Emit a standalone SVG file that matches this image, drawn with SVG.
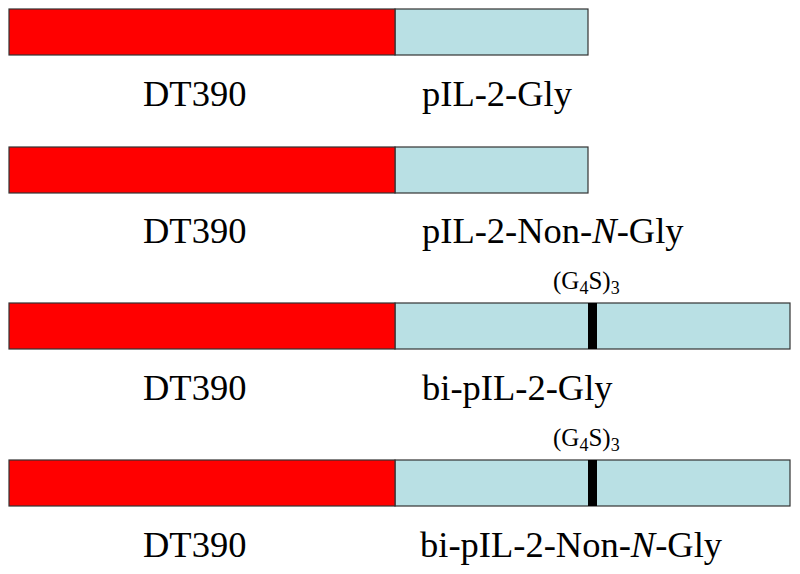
<svg xmlns="http://www.w3.org/2000/svg" width="800" height="574" viewBox="0 0 800 574">
<style>
.red{fill:#FF0000;stroke:#333;stroke-width:1.2}
.blue{fill:#B9E0E4;stroke:#333;stroke-width:1.2}
.link{fill:#000}
.lbl{font-family:"Liberation Serif","Times New Roman",serif;font-size:36.5px;fill:#000}
.sm{font-family:"Liberation Serif","Times New Roman",serif;font-size:25px;fill:#000}
.sub{font-size:18px}
</style>
<rect width="800" height="574" fill="#fff"/>
<g id="construct1">
<rect class="blue" x="395" y="9" width="193" height="46"/>
<rect class="red" x="9" y="9" width="386" height="46"/>
<text class="lbl" x="143" y="106">DT390</text>
<text class="lbl" x="422" y="106">pIL-2-Gly</text>
</g>
<g id="construct2">
<rect class="blue" x="395" y="147" width="193" height="46"/>
<rect class="red" x="9" y="147" width="386" height="46"/>
<text class="lbl" x="143" y="243">DT390</text>
<text class="lbl" x="422" y="243">pIL-2-Non-<tspan font-style="italic">N</tspan>-Gly</text>
</g>
<g id="construct3">
<rect class="blue" x="395" y="303" width="395" height="46"/>
<rect class="red" x="9" y="303" width="386" height="46"/>
<rect class="link" x="588" y="303" width="9" height="46"/>
<text class="sm" x="553" y="289">(G<tspan class="sub" dy="5">4</tspan><tspan dy="-5">S)</tspan><tspan class="sub" dy="5">3</tspan></text>
<text class="lbl" x="143" y="400">DT390</text>
<text class="lbl" x="422" y="400">bi-pIL-2-Gly</text>
</g>
<g id="construct4">
<rect class="blue" x="395" y="460" width="395" height="46"/>
<rect class="red" x="9" y="460" width="386" height="46"/>
<rect class="link" x="588" y="460" width="9" height="46"/>
<text class="sm" x="553" y="446">(G<tspan class="sub" dy="5">4</tspan><tspan dy="-5">S)</tspan><tspan class="sub" dy="5">3</tspan></text>
<text class="lbl" x="143" y="557">DT390</text>
<text class="lbl" x="420" y="557">bi-pIL-2-Non-<tspan font-style="italic">N</tspan>-Gly</text>
</g>
<g id="connectors"></g>
</svg>
